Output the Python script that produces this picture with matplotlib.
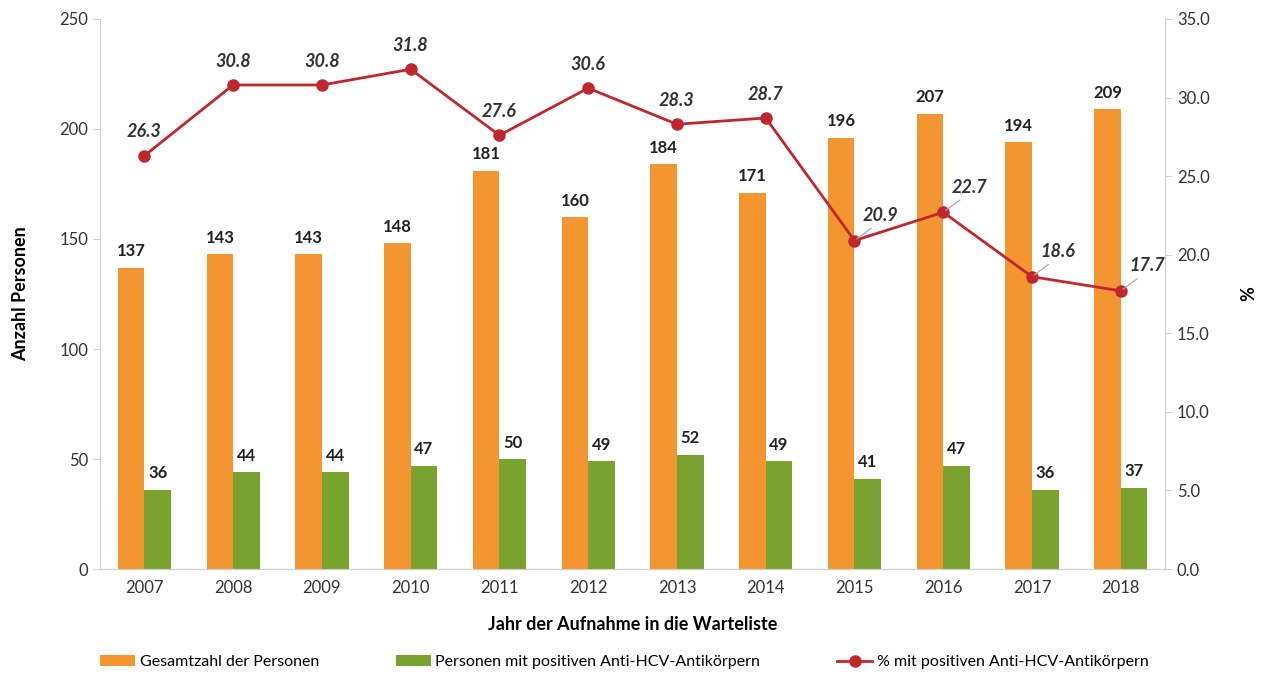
import numpy as np
import matplotlib.pyplot as plt

plt.rcParams['font.family'] = ['Lato', 'DejaVu Sans']

jahre = ['2007', '2008', '2009', '2010', '2011', '2012', '2013', '2014', '2015', '2016', '2017', '2018']
gesamt = [137, 143, 143, 148, 181, 160, 184, 171, 196, 207, 194, 209]
positiv = [36, 44, 44, 47, 50, 49, 52, 49, 41, 47, 36, 37]
prozent = [26.3, 30.8, 30.8, 31.8, 27.6, 30.6, 28.3, 28.7, 20.9, 22.7, 18.6, 17.7]

orange = '#F39530'
gruen = '#79A22E'
rot = '#C0272D'
grau = '#D0D0D0'

fig = plt.figure(figsize=(12.61, 6.73), dpi=100)
ax = fig.add_axes([0.0793, 0.1545, 0.8447, 0.8173])
ax2 = ax.twinx()

x = np.arange(len(jahre))
w = 0.3
b1 = ax.bar(x - w / 2, gesamt, w, color=orange, label='Gesamtzahl der Personen')
b2 = ax.bar(x + w / 2, positiv, w, color=gruen, label='Personen mit positiven Anti-HCV-Antikörpern')

for xi, v in zip(x, gesamt):
    ax.annotate(str(v), (xi - w / 2, v), xytext=(0, 6), textcoords='offset points',
                ha='center', va='bottom', fontsize=12, fontweight='bold', color='#222222')
for xi, v in zip(x, positiv):
    ax.annotate(str(v), (xi + w / 2, v), xytext=(0, 6), textcoords='offset points',
                ha='center', va='bottom', fontsize=12, fontweight='bold', color='#222222')

l1, = ax2.plot(x, prozent, color=rot, lw=2.0, marker='o', ms=8,
               label='% mit positiven Anti-HCV-Antikörpern')

# Beschriftung der Prozentwerte; die letzten vier mit Hilfslinie nach rechts
for i, v in enumerate(prozent):
    if i < 8:
        ax2.annotate(f'{v:.1f}', (x[i], v), xytext=(0, 11), textcoords='offset points',
                     ha='center', va='bottom', fontsize=13, fontweight='bold',
                     fontstyle='italic', color='#333333')
    else:
        ax2.annotate(f'{v:.1f}', (x[i], v), xytext=(6, 12), textcoords='offset points',
                     ha='left', va='bottom', fontsize=13, fontweight='bold',
                     fontstyle='italic', color='#333333',
                     arrowprops=dict(arrowstyle='-', color='#AAAAAA', lw=0.9,
                                     relpos=(0.4, 0.0), shrinkA=2, shrinkB=2))

ax.set_xlim(-0.5, len(jahre) - 0.5)
ax.set_ylim(0, 250)
ax.set_yticks(np.arange(0, 251, 50))
ax2.set_ylim(0, 35)
ax2.set_yticks(np.arange(0, 35.1, 5))
ax2.set_yticklabels([f'{t:.1f}' for t in np.arange(0, 35.1, 5)])
ax.set_xticks(x)
ax.set_xticklabels(jahre)

for a in (ax, ax2):
    a.spines['top'].set_visible(False)
    for s in ('left', 'right', 'bottom'):
        a.spines[s].set_color(grau)
    a.tick_params(axis='both', colors=grau, labelcolor='#333333', labelsize=12, length=5)
ax.tick_params(axis='x', length=0, pad=8)

ax.set_ylabel('Anzahl Personen', fontsize=13, fontweight='bold', labelpad=22)
ax2.set_ylabel('%', fontsize=13, fontweight='bold', labelpad=22)
ax.set_xlabel('Jahr der Aufnahme in die Warteliste', fontsize=13, fontweight='bold', labelpad=14)

fig.legend(handles=[b1, b2, l1], loc='center', bbox_to_anchor=(0.495, 0.016), ncol=3,
           frameon=False, fontsize=11.5, columnspacing=4.8, handlelength=2.2,
           handletextpad=0.3)

fig.savefig('out.png', dpi=100)
